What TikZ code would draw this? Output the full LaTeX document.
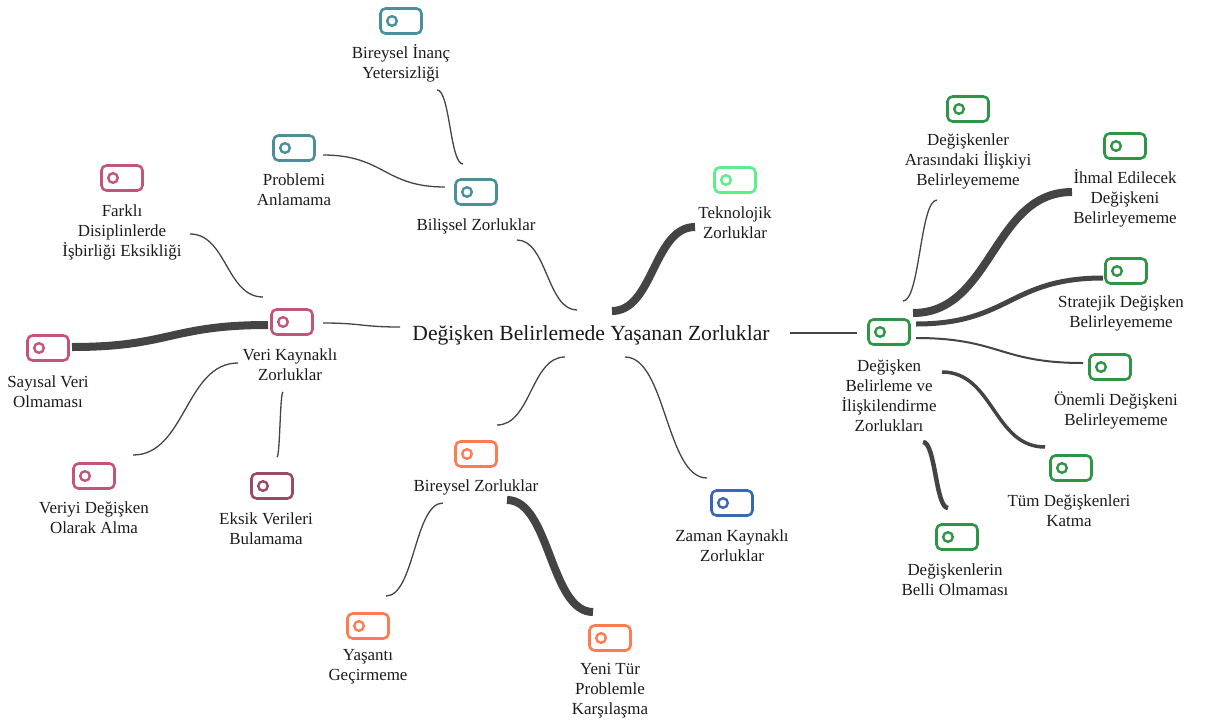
\documentclass[tikz,border=0pt]{standalone}
\usepackage{fontspec}
\IfFontExistsTF{Liberation Serif}{\setmainfont{Liberation Serif}}{\setmainfont{DejaVu Serif}}
\usetikzlibrary{calc}

\definecolor{cteal}{HTML}{4A8F9A}
\definecolor{cpink}{HTML}{C4557A}
\definecolor{cmaroon}{HTML}{9A4A66}
\definecolor{cgreen}{HTML}{2E9446}
\definecolor{clime}{HTML}{5BEE8C}
\definecolor{corange}{HTML}{FF7B52}
\definecolor{cblue}{HTML}{3A66B8}
\definecolor{linkc}{HTML}{444444}
\definecolor{txt}{HTML}{1A1A1A}

\tikzset{
  icon/.style={draw=#1, line width=1.95pt, rounded corners=3.75pt,
    minimum width=30.75pt, minimum height=18.75pt, inner sep=0pt,
    path picture={\draw[#1, line width=1.8pt]
      ([xshift=-6.75pt]path picture bounding box.center) circle (3.6pt);}},
  lbl/.style={align=center, font=\rmfamily\fontsize{12.7}{15}\selectfont, text=txt, inner sep=0pt},
  toplbl/.style={align=center, font=\rmfamily\fontsize{16.2}{19}\selectfont, text=txt, inner sep=0pt},
  link/.style={draw=linkc, line width=#1*0.75pt},
  link/.default=1.3,
}

% horizontal-tangent S-curve between two points
\newcommand\mlink[3]{%
  \path (#2) coordinate (la) (#3) coordinate (lb);
  \coordinate (lm) at ($(la)!0.5!(lb)$);
  \draw[#1] (la) .. controls (lm |- la) and (lm |- lb) .. (lb);}

\begin{document}
\begin{tikzpicture}[x=0.75pt, y=-0.75pt]
\useasboundingbox (0,0) rectangle (1206,725);

% root
\node[toplbl] (ctr) at (591,335) {Değişken Belirlemede Yaşanan Zorluklar};

% cognitive branch
\node[icon=cteal] (bil) at (476,192) {};
\node[lbl] (bilL) at (476,226) {Bilişsel Zorluklar};
\node[icon=cteal] (bin) at (401,21) {};
\node[lbl] (binL) at (401,63) {Bireysel İnanç\\Yetersizliği};
\node[icon=cteal] (pro) at (294,148) {};
\node[lbl] (proL) at (294,190) {Problemi\\Anlamama};

% data branch
\node[icon=cpink] (ver) at (292,322) {};
\node[lbl] (verL) at (290,365) {Veri Kaynaklı\\Zorluklar};
\node[icon=cpink] (far) at (122,178) {};
\node[lbl] (farL) at (122,232) {Farklı\\Disiplinlerde\\İşbirliği Eksikliği};
\node[icon=cpink] (say) at (48,348) {};
\node[lbl] (sayL) at (48,392) {Sayısal Veri\\Olmaması};
\node[icon=cpink] (vdg) at (94,476) {};
\node[lbl] (vdgL) at (94,518) {Veriyi Değişken\\Olarak Alma};
\node[icon=cmaroon] (eks) at (272,486) {};
\node[lbl] (eksL) at (266,529) {Eksik Verileri\\Bulamama};

% individual branch
\node[icon=corange] (bir) at (476,454) {};
\node[lbl] (birL) at (476,487) {Bireysel Zorluklar};
\node[icon=corange] (yas) at (368,626) {};
\node[lbl] (yasL) at (368,667) {Yaşantı\\Geçirmeme};
\node[icon=corange] (yen) at (610,638) {};
\node[lbl] (yenL) at (610,691) {Yeni Tür\\Problemle\\Karşılaşma};

% technology and time
\node[icon=clime] (tek) at (735,180) {};
\node[lbl] (tekL) at (735,223) {Teknolojik\\Zorluklar};
\node[icon=cblue] (zam) at (732,503) {};
\node[lbl] (zamL) at (732,546) {Zaman Kaynaklı\\Zorluklar};

% variable branch
\node[icon=cgreen] (deg) at (889,332) {};
\node[lbl] (degL) at (889,396) {Değişken\\Belirleme ve\\İlişkilendirme\\Zorlukları};
\node[icon=cgreen] (ara) at (968,109) {};
\node[lbl] (araL) at (968,161) {Değişkenler\\Arasındaki İlişkiyi\\Belirleyememe};
\node[icon=cgreen] (ihm) at (1125,146) {};
\node[lbl] (ihmL) at (1125,198) {İhmal Edilecek\\Değişkeni\\Belirleyememe};
\node[icon=cgreen] (str) at (1126,271) {};
\node[lbl] (strL) at (1121,313) {Stratejik Değişken\\Belirleyememe};
\node[icon=cgreen] (one) at (1110,367) {};
\node[lbl] (oneL) at (1116,410) {Önemli Değişkeni\\Belirleyememe};
\node[icon=cgreen] (tum) at (1071,468) {};
\node[lbl] (tumL) at (1069,511) {Tüm Değişkenleri\\Katma};
\node[icon=cgreen] (bel) at (957,537) {};
\node[lbl] (belL) at (955,580) {Değişkenlerin\\Belli Olmaması};

% connectors from the root
\mlink{link}{[shift={(-14,-25)}]ctr.center}{[shift={(41,14)}]bilL.center}
\mlink{link=8}{[shift={(21,-24)}]ctr.center}{[shift={(-40,4)}]tekL.center}
\mlink{link}{[shift={(-191,-8)}]ctr.center}{[shift={(31,1)}]ver.center}
\mlink{link}{[shift={(-26,22)}]ctr.center}{[shift={(21,-29)}]bir.center}
\mlink{link}{[shift={(34,22)}]ctr.center}{[shift={(-25,-25)}]zam.center}
\mlink{link}{[shift={(199,-2)}]ctr.center}{[shift={(-32,1)}]deg.center}

% cognitive children
\mlink{link}{[shift={(-13,-28)}]bil.center}{[shift={(36,27)}]binL.center}
\mlink{link}{[shift={(-31,-5)}]bil.center}{[shift={(29,7)}]pro.center}

% data children
\mlink{link}{[shift={(-29,-25)}]ver.center}{[shift={(68,2)}]farL.center}
\mlink{link=8}{[shift={(-24,3)}]ver.center}{[shift={(24,-1)}]say.center}
\mlink{link}{[shift={(-52,-2)}]verL.center}{[shift={(39,-21)}]vdg.center}
\mlink{link}{[shift={(-7,27)}]verL.center}{[shift={(5,-29)}]eks.center}

% individual children
\mlink{link}{[shift={(-33,16)}]birL.center}{[shift={(18,-30)}]yas.center}
\mlink{link=8}{[shift={(31,13)}]birL.center}{[shift={(-17,-26)}]yen.center}

% variable children
\mlink{link}{[shift={(14,-31)}]deg.center}{[shift={(-31,39)}]araL.center}
\mlink{link=8}{[shift={(24,-19)}]deg.center}{[shift={(-53,-6)}]ihmL.center}
\mlink{link=5}{[shift={(27,-8)}]deg.center}{[shift={(-23,7)}]str.center}
\mlink{link=2}{[shift={(27,6)}]deg.center}{[shift={(-27,-4)}]one.center}
\mlink{link=3.5}{[shift={(53,-24)}]degL.center}{[shift={(-26,-21)}]tum.center}
\mlink{link=4.5}{[shift={(34,46)}]degL.center}{[shift={(-9,-29)}]bel.center}
\end{tikzpicture}
\end{document}
